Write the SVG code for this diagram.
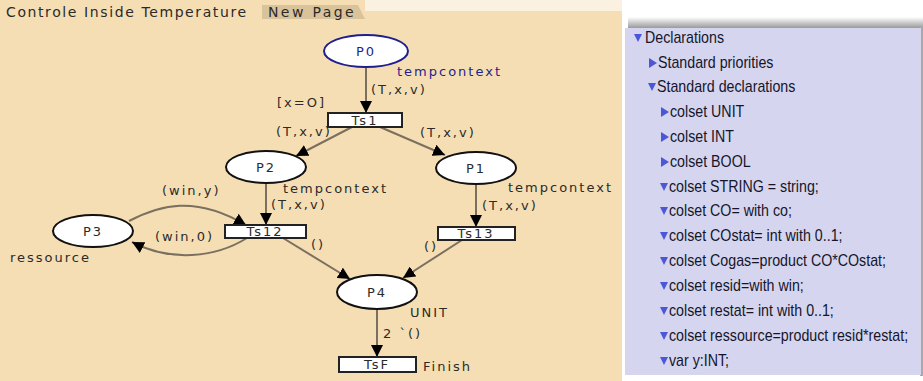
<svg xmlns="http://www.w3.org/2000/svg" width="923" height="381" viewBox="0 0 923 381">
<defs>
<marker id="arr" markerUnits="userSpaceOnUse" markerWidth="13" markerHeight="12" refX="12" refY="6" orient="auto">
<path d="M0,0 L12,6 L0,12 z" fill="#000"/>
</marker>
<linearGradient id="shTop" x1="0" y1="0" x2="0" y2="1">
<stop offset="0" stop-color="#ffffff"/>
<stop offset="1" stop-color="#9a9a9a"/>
</linearGradient>
<style>
.net{font-family:"DejaVu Sans",Verdana,sans-serif;font-size:13px;fill:#2b2b2b;letter-spacing:2px}
.blue{fill:#1f1f8f}
.mid{text-anchor:middle}
.place{fill:#fff;stroke:#111;stroke-width:2}
.trans{fill:#fff;stroke:#222;stroke-width:2}
.arc{fill:none;stroke:#7b6f60;stroke-width:2;marker-end:url(#arr)}
.decl{font-family:"Liberation Sans",Arial,sans-serif;font-size:16px;fill:#15152a}
.tri{fill:#4b57d6}
.tab{font-family:"DejaVu Sans",Verdana,sans-serif;font-size:14px;fill:#2a2a2a;letter-spacing:1.6px}
</style>
</defs>
<rect x="0" y="0" width="923" height="381" fill="#ffffff"/>
<!-- canvas -->
<rect x="0" y="0" width="622" height="381" fill="#f5deb3"/>
<rect x="365" y="0" width="257" height="11" fill="#fbf1e0"/>
<path d="M262,5 L358,5 L365,19 L262,19 z" fill="#d9c39b"/>
<text class="tab" x="6" y="17">Controle Inside Temperature</text>
<text class="tab" x="268" y="17" style="letter-spacing:2.4px">New Page</text>

<!-- connectors -->
<g id="connectors">
<path class="arc" d="M366,67 L366,113"/>
<path class="arc" d="M352,127 L296,156"/>
<path class="arc" d="M380,127 L445,155"/>
<path class="arc" d="M266,183 L266,225"/>
<path class="arc" d="M476,184 L476,227"/>
<path class="arc" d="M129,221 C160,205 195,195 246,225"/>
<path class="arc" d="M247,238 C215,258 170,262 132,242"/>
<path class="arc" d="M283,238 L350,279"/>
<path class="arc" d="M462,240 L403,278"/>
<path class="arc" d="M377,309 L377,357"/>
<text class="net" x="371" y="94">(T,x,v)</text>
<text class="net" x="277" y="107">[x=O]</text>
<text class="net" x="276" y="136">(T,x,v)</text>
<text class="net" x="420" y="137">(T,x,v)</text>
<text class="net" x="271" y="209">(T,x,v)</text>
<text class="net" x="482" y="210">(T,x,v)</text>
<text class="net" x="162" y="195">(win,y)</text>
<text class="net" x="155" y="241">(win,0)</text>
<text class="net" x="311" y="249">()</text>
<text class="net" x="424" y="251">()</text>
<text class="net" x="383" y="338">2 `()</text>
</g>

<!-- places -->
<g id="P0">
<ellipse cx="366" cy="51" rx="42" ry="16" fill="#fff" stroke="#1f1f8f" stroke-width="2"/>
<text class="net blue mid" x="366" y="56">P0</text>
<text class="net blue" x="397" y="76">tempcontext</text>
</g>
<g id="P2">
<ellipse class="place" cx="266" cy="167" rx="40" ry="16"/>
<text class="net mid" x="266" y="172">P2</text>
<text class="net" x="283" y="193">tempcontext</text>
</g>
<g id="P1">
<ellipse class="place" cx="476" cy="168" rx="40" ry="16"/>
<text class="net mid" x="476" y="173">P1</text>
<text class="net" x="508" y="192">tempcontext</text>
</g>
<g id="P3">
<ellipse class="place" cx="93" cy="231" rx="40" ry="16"/>
<text class="net mid" x="93" y="236">P3</text>
<text class="net" x="10" y="262">ressource</text>
</g>
<g id="P4">
<ellipse class="place" cx="377" cy="292" rx="40" ry="17"/>
<text class="net mid" x="377" y="297">P4</text>
<text class="net" x="410" y="317">UNIT</text>
</g>

<!-- transitions -->
<g id="Ts1">
<rect class="trans" x="328" y="113" width="74" height="14"/>
<text class="net mid" x="365" y="125">Ts1</text>
</g>
<g id="Ts12">
<rect class="trans" x="225" y="225" width="81" height="13"/>
<text class="net mid" x="265" y="236">Ts12</text>
</g>
<g id="Ts13">
<rect class="trans" x="438" y="227" width="77" height="13"/>
<text class="net mid" x="476" y="238">Ts13</text>
</g>
<g id="TsF">
<rect class="trans" x="339" y="357" width="77" height="15"/>
<text class="net mid" x="377" y="369">TsF</text>
<text class="net" x="423" y="371">Finish</text>
</g>

<!-- declarations panel -->
<g id="declarations">
<rect x="628" y="17" width="295" height="11" fill="url(#shTop)"/>
<rect x="920" y="26" width="3" height="350" fill="#a8a8a8"/>
<rect x="625" y="28" width="296" height="347" fill="#d5d5f0"/>
<path class="tri" d="M634,34 L642,34 L638,42 z"/>
<text class="decl" transform="translate(645,43) scale(0.89,1)">Declarations</text>
<path class="tri" d="M649,58 L657,63 L649,68 z"/>
<text class="decl" transform="translate(658,68) scale(0.89,1)">Standard priorities</text>
<path class="tri" d="M648,83 L656,83 L652,91 z"/>
<text class="decl" transform="translate(657,92) scale(0.89,1)">Standard declarations</text>
<path class="tri" d="M661,107 L669,112 L661,117 z"/>
<text class="decl" transform="translate(670,117) scale(0.89,1)">colset UNIT</text>
<path class="tri" d="M661,132 L669,137 L661,142 z"/>
<text class="decl" transform="translate(670,142) scale(0.89,1)">colset INT</text>
<path class="tri" d="M661,157 L669,162 L661,167 z"/>
<text class="decl" transform="translate(670,167) scale(0.89,1)">colset BOOL</text>
<path class="tri" d="M660,183 L668,183 L664,191 z"/>
<text class="decl" transform="translate(669,192) scale(0.89,1)">colset STRING = string;</text>
<path class="tri" d="M660,207 L668,207 L664,215 z"/>
<text class="decl" transform="translate(669,216) scale(0.89,1)">colset CO= with co;</text>
<path class="tri" d="M660,232 L668,232 L664,240 z"/>
<text class="decl" transform="translate(669,241) scale(0.89,1)">colset COstat= int with 0..1;</text>
<path class="tri" d="M660,257 L668,257 L664,265 z"/>
<text class="decl" transform="translate(669,266) scale(0.89,1)">colset Cogas=product CO*COstat;</text>
<path class="tri" d="M660,282 L668,282 L664,290 z"/>
<text class="decl" transform="translate(669,291) scale(0.89,1)">colset resid=with win;</text>
<path class="tri" d="M660,307 L668,307 L664,315 z"/>
<text class="decl" transform="translate(669,316) scale(0.89,1)">colset restat= int with 0..1;</text>
<path class="tri" d="M660,332 L668,332 L664,340 z"/>
<text class="decl" transform="translate(669,341) scale(0.89,1)">colset ressource=product resid*restat;</text>
<path class="tri" d="M660,357 L668,357 L664,365 z"/>
<text class="decl" transform="translate(669,366) scale(0.89,1)">var y:INT;</text>
</g>
</svg>
